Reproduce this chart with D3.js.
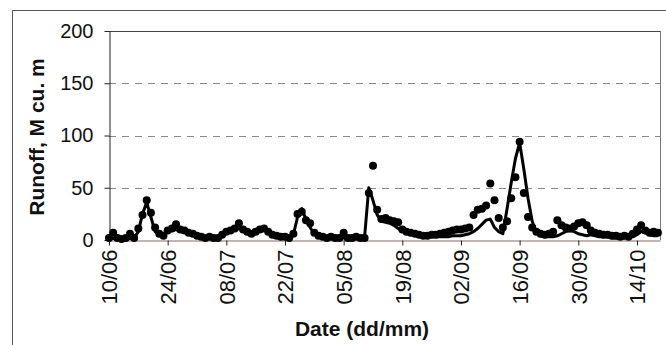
<!DOCTYPE html>
<meta charset="utf-8">
<head>
    <style>
        body { margin: 0; background: #fff; }
        text { font-family: Arial, "Liberation Sans", sans-serif; fill: #111; }
        .grid line { stroke: #888; stroke-dasharray: 7, 6; }
    </style>
</head>
<body>
    <svg width="666" height="345"></svg>
</body>
<script src="https://d3js.org/d3.v7.min.js"></script>
<script>

    // daily runoff, M cu. m, starting 10/06
    var startDate = new Date(2001, 5, 10);

    var simulated = [
        1.5, 1.5, 2, 2, 2, 1.5, 2, 8, 25, 36,
        22, 8, 5, 5, 8, 9, 10, 9, 8, 6,
        5, 4, 3, 2, 2, 2, 2, 4, 7, 9,
        10, 11, 9, 7, 6, 7, 9, 10, 8, 6,
        4, 3, 2, 2, 5, 22, 30, 20, 12, 6,
        4, 3, 2, 2, 2, 2, 2, 2, 2, 2,
        2, 3, 50, 38, 24, 18, 17, 16, 14, 11,
        9, 7, 6, 5, 4, 3, 3, 3, 3, 3,
        3, 3, 4, 4, 4, 5, 6, 8, 11, 15,
        19, 20, 12, 8, 6, 30, 55, 78, 93, 68,
        40, 18, 7, 4, 3, 3, 3, 4, 6, 8,
        9, 8, 6, 5, 4, 5, 4, 3, 3, 3,
        2, 2, 2, 2, 3, 3, 5, 8, 7, 5,
        4, 4
    ];

    var observed = [
        2, 7, 2, 1, 2, 6, 2, 11, 24, 38,
        26, 12, 6, 4, 9, 11, 15, 10, 9, 7,
        6, 4, 3, 2, 3, 2, 2, 5, 8, 9,
        11, 16, 10, 8, 6, 8, 10, 11, 8, 5,
        4, 3, 3, 2, 6, 25, 27, 19, 16, 7,
        4, 3, 2, 3, 2, 2, 7, 2, 2, 3,
        2, 2, 45, 71, 29, 20, 21, 19, 18, 17,
        10, 8, 7, 6, 5, 4, 4, 5, 5, 6,
        7, 8, 9, 10, 10, 11, 12, 24, 29, 30,
        33, 54, 38, 21, 12, 18, 40, 60, 94, 45,
        22, 12, 8, 6, 5, 6, 8, 19, 14, 12,
        11, 13, 16, 17, 14, 9, 7, 6, 5, 5,
        4, 4, 3, 4, 3, 6, 10, 14, 9, 7,
        8, 7
    ];

    var yTicks = [0, 50, 100, 150, 200];
    var xTickCount = 10;  // every 14 days from 10/06

    var svg = d3.select("svg"),
        plotLeft = 109, plotRight = 660, plotTop = 31, plotBottom = 240;

    var x = d3.scaleTime()
        .domain([startDate, d3.timeHour.offset(startDate, 131.5 * 24)])
        .range([plotLeft, plotRight]);

    var y = d3.scaleLinear()
        .domain([0, 200])
        .range([plotBottom, plotTop]);

    var day = function (i) { return d3.timeDay.offset(startDate, i); };
    var fmt = d3.timeFormat("%d/%m");

    // outer chart frame
    svg.append("rect")
        .attr("x", 12.5).attr("y", 10.5)
        .attr("width", 700).attr("height", 400)
        .attr("fill", "none").attr("stroke", "#555");

    // gridlines
    svg.append("g")
        .attr("class", "grid")
        .selectAll("line")
        .data([50, 100, 150])
        .enter().append("line")
        .attr("x1", plotLeft).attr("x2", plotRight)
        .attr("y1", function (d) { return Math.round(y(d)) + 0.5; })
        .attr("y2", function (d) { return Math.round(y(d)) + 0.5; });

    // plot frame top / right
    svg.append("line")
        .attr("x1", plotLeft).attr("x2", plotRight)
        .attr("y1", plotTop + 0.5).attr("y2", plotTop + 0.5)
        .attr("stroke", "#444");
    svg.append("line")
        .attr("x1", plotRight + 0.5).attr("x2", plotRight + 0.5)
        .attr("y1", plotTop).attr("y2", plotBottom)
        .attr("stroke", "#777");

    // y axis
    var yAxis = svg.append("g")
        .attr("transform", "translate(" + (plotLeft + 0.5) + ",0)")
        .call(d3.axisLeft(y).tickValues(yTicks).tickSize(5).tickPadding(11).tickSizeOuter(0));
    yAxis.select(".domain").attr("stroke", "#222");
    yAxis.selectAll(".tick line").attr("stroke", "#222");
    yAxis.selectAll("text").attr("font-size", "20px").attr("fill", "#111");

    // x axis
    var xTicks = d3.range(xTickCount).map(function (k) { return day(14 * k); });
    var xAxis = svg.append("g")
        .attr("transform", "translate(0," + (plotBottom + 0.5) + ")")
        .call(d3.axisBottom(x).tickValues(xTicks).tickFormat(fmt).tickSize(5).tickSizeOuter(0));
    xAxis.select(".domain").attr("stroke", "#8a6a60");
    xAxis.selectAll(".tick line").attr("stroke", "#222");
    xAxis.selectAll("text")
        .attr("font-size", "22px")
        .attr("fill", "#111")
        .attr("text-anchor", "end")
        .attr("transform", "rotate(-90)")
        .attr("x", -9)
        .attr("y", 0)
        .attr("dy", "0.36em");

    // simulated line
    var line = d3.line()
        .x(function (d, i) { return x(day(i)); })
        .y(function (d) { return y(d); });

    svg.append("path")
        .datum(simulated)
        .attr("fill", "none")
        .attr("stroke", "#000")
        .attr("stroke-width", 3)
        .attr("stroke-linejoin", "round")
        .attr("d", line);

    // observed points
    svg.append("g")
        .selectAll("circle")
        .data(observed)
        .enter().append("circle")
        .attr("cx", function (d, i) { return x(day(i)); })
        .attr("cy", function (d) { return y(d); })
        .attr("r", 4)
        .attr("fill", "#000");

    // axis titles
    svg.append("text")
        .attr("transform", "translate(44,137) rotate(-90)")
        .attr("text-anchor", "middle")
        .attr("font-size", "21px")
        .attr("font-weight", "bold")
        .text("Runoff, M cu. m");

    svg.append("text")
        .attr("x", 362)
        .attr("y", 336)
        .attr("text-anchor", "middle")
        .attr("font-size", "21px")
        .attr("font-weight", "bold")
        .text("Date (dd/mm)");

</script>
